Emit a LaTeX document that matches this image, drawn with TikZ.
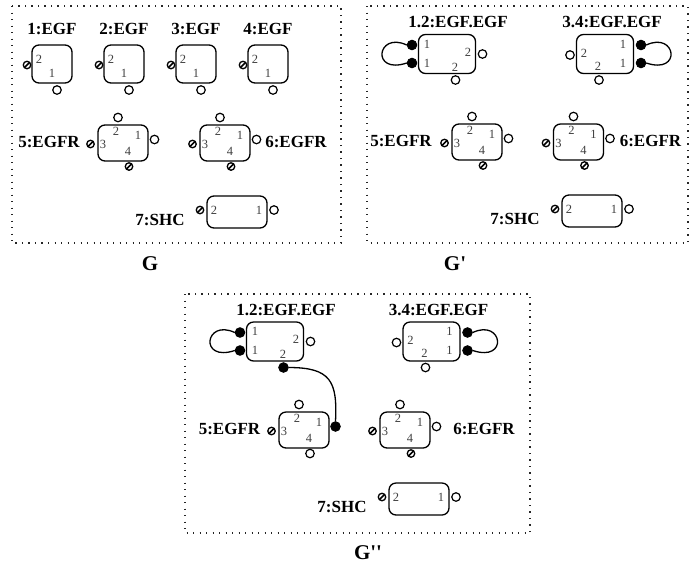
\documentclass[tikz,border=0pt]{standalone}
\usepackage{fontspec}
\setmainfont{Liberation Serif}[Ligatures=TeXOff]
\usetikzlibrary{calc}
\tikzset{
 mol/.style={draw, rounded corners=7pt, line width=1.3pt, inner sep=0pt},
 hol/.style={circle, draw, line width=1.2pt, fill=white, minimum size=8.5pt, inner sep=0pt},
 bnd/.style={circle, draw, fill=black, line width=1pt, minimum size=9.5pt, inner sep=0pt},
 slsh/.style={circle, draw, line width=1.3pt, fill=white, minimum size=7.5pt, inner sep=0pt,
   path picture={\draw[line width=1.6pt] (path picture bounding box.south west) -- (path picture bounding box.north east);}},
 lbl/.style={font=\bfseries\fontsize{17}{17}\selectfont, inner sep=0pt},
 pn/.style={font=\fontsize{12.5}{12.5}\selectfont, text=black!75, inner sep=0pt},
 panel/.style={draw=black!85, line width=1.2pt, dash pattern=on 1.3pt off 5.2pt},
 plbl/.style={font=\bfseries\fontsize{21}{21}\selectfont, inner sep=0pt},
 bond/.style={line width=1.3pt},
}
% EGF monomer: name, x, y, label
\newcommand{\egfmono}[4]{%
 \node[mol, minimum width=40pt, minimum height=38pt] (#1) at (#2,#3) {};
 \node[lbl] (#1-t) at ($(#1)+(0,-35)$) {#4};
 \node[pn] (#1-n2) at ($(#1)+(-13,-5)$) {2};
 \node[pn] (#1-n1) at ($(#1)+(0,9)$) {1};
 \node[slsh] (#1-p2) at ($(#1)+(-25,1)$) {};
 \node[hol] (#1-p1) at ($(#1)+(5,26)$) {};
}
% EGFR: name, x, y, label, label x offset, top style, right style, bottom style
\newcommand{\egfr}[8]{%
 \node[mol, minimum width=50pt, minimum height=36pt] (#1) at (#2,#3) {};
 \node[lbl] (#1-t) at ($(#1)+(#5,-1)$) {#4};
 \node[pn] (#1-n2) at ($(#1)+(-7,-12)$) {2};
 \node[pn] (#1-n1) at ($(#1)+(15,-8)$) {1};
 \node[pn] (#1-n3) at ($(#1)+(-20,1)$) {3};
 \node[pn] (#1-n4) at ($(#1)+(5,8)$) {4};
 \node[#6] (#1-p2) at ($(#1)+(-5,-25.5)$) {};
 \node[#7] (#1-p1) at ($(#1)+(31.5,-3.5)$) {};
 \node[slsh] (#1-p3) at ($(#1)+(-32.5,1)$) {};
 \node[#8] (#1-p4) at ($(#1)+(6,23.5)$) {};
}
% SHC: name, x, y
\newcommand{\shc}[3]{%
 \node[mol, minimum width=60pt, minimum height=32pt] (#1) at (#2,#3) {};
 \node[lbl] (#1-t) at ($(#1)+(-77,8)$) {7:SHC};
 \node[pn] (#1-n2) at ($(#1)+(-23,-2)$) {2};
 \node[pn] (#1-n1) at ($(#1)+(22,-2)$) {1};
 \node[slsh] (#1-p2) at ($(#1)+(-37,-2)$) {};
 \node[hol] (#1-p1) at ($(#1)+(37,-2)$) {};
}
% dimer with loop on the left: name, x, y, bottom style
\newcommand{\dimerL}[4]{%
 \node[mol, minimum width=57pt, minimum height=39pt] (#1) at (#2,#3) {};
 \node[lbl] (#1-t) at ($(#1)+(11,-32)$) {1.2:EGF.EGF};
 \node[pn] (#1-na) at ($(#1)+(-20,-10)$) {1};
 \node[pn] (#1-nb) at ($(#1)+(-20,9)$) {1};
 \node[pn] (#1-nc) at ($(#1)+(21,-2)$) {2};
 \node[pn] (#1-nd) at ($(#1)+(8,13)$) {2};
 \node[bnd] (#1-a) at ($(#1)+(-35,-9)$) {};
 \node[bnd] (#1-b) at ($(#1)+(-35,9)$) {};
 \node[hol] (#1-c) at ($(#1)+(35.5,0)$) {};
 \node[#4] (#1-d) at ($(#1)+(8.5,26)$) {};
 \draw[bond] (#1-a.west) .. controls +(-30,-14) and +(-36,12) .. (#1-b.west);
}
% dimer with loop on the right: name, x, y
\newcommand{\dimerR}[3]{%
 \node[mol, minimum width=57pt, minimum height=39pt] (#1) at (#2,#3) {};
 \node[lbl] (#1-t) at ($(#1)+(7,-32)$) {3.4:EGF.EGF};
 \node[pn] (#1-na) at ($(#1)+(18,-10)$) {1};
 \node[pn] (#1-nb) at ($(#1)+(18,9)$) {1};
 \node[pn] (#1-nc) at ($(#1)+(-21,-1)$) {2};
 \node[pn] (#1-nd) at ($(#1)+(-7,12)$) {2};
 \node[bnd] (#1-a) at ($(#1)+(36,-9)$) {};
 \node[bnd] (#1-b) at ($(#1)+(36,9)$) {};
 \node[hol] (#1-c) at ($(#1)+(-35,1)$) {};
 \node[hol] (#1-d) at ($(#1)+(-6,26)$) {};
 \draw[bond] (#1-a.east) .. controls +(30,-14) and +(36,12) .. (#1-b.east);
}
\begin{document}
\begin{tikzpicture}[x=1pt,y=-1pt]
\useasboundingbox (0,0) rectangle (695,566);
\fill[white] (0,0) rectangle (695,566);

% ---------- G ----------
\draw[panel] (12,6) rectangle (341,243);
\egfmono{a1}{52}{64}{1:EGF}
\egfmono{a2}{124}{64}{2:EGF}
\egfmono{a3}{196}{64}{3:EGF}
\egfmono{a4}{268}{64}{4:EGF}
\egfr{a5}{123}{143}{5:EGFR}{-74}{hol}{hol}{slsh}
\egfr{a6}{225}{143}{6:EGFR}{71}{hol}{hol}{slsh}
\shc{a7}{237}{212}
\node[plbl] (gA) at (150,264) {G};

% ---------- G' ----------
\draw[panel] (367,6) rectangle (688,243);
\dimerL{b12}{447}{54}{hol}
\dimerR{b34}{605}{54}
\egfr{b5}{477}{142}{5:EGFR}{-76}{hol}{hol}{slsh}
\egfr{b6}{578.5}{142}{6:EGFR}{72}{hol}{hol}{slsh}
\shc{b7}{592}{211}
\node[plbl] (gB) at (455,264) {G'};

% ---------- G'' ----------
\draw[panel] (185,294) rectangle (530,533);
\dimerL{c12}{275}{341.5}{bnd}
\dimerR{c34}{431.5}{341.5}
\egfr{c5}{304}{430}{5:EGFR}{-74.5}{hol}{bnd}{hol}
\egfr{c6}{405}{430}{6:EGFR}{79}{hol}{hol}{slsh}
\shc{c7}{419}{499}
\draw[bond] (c12-d.east) .. controls +(42,0) and +(2,-40) .. (c5-p1.north);
\node[plbl] (gC) at (368,553) {G''};
\end{tikzpicture}
\end{document}
